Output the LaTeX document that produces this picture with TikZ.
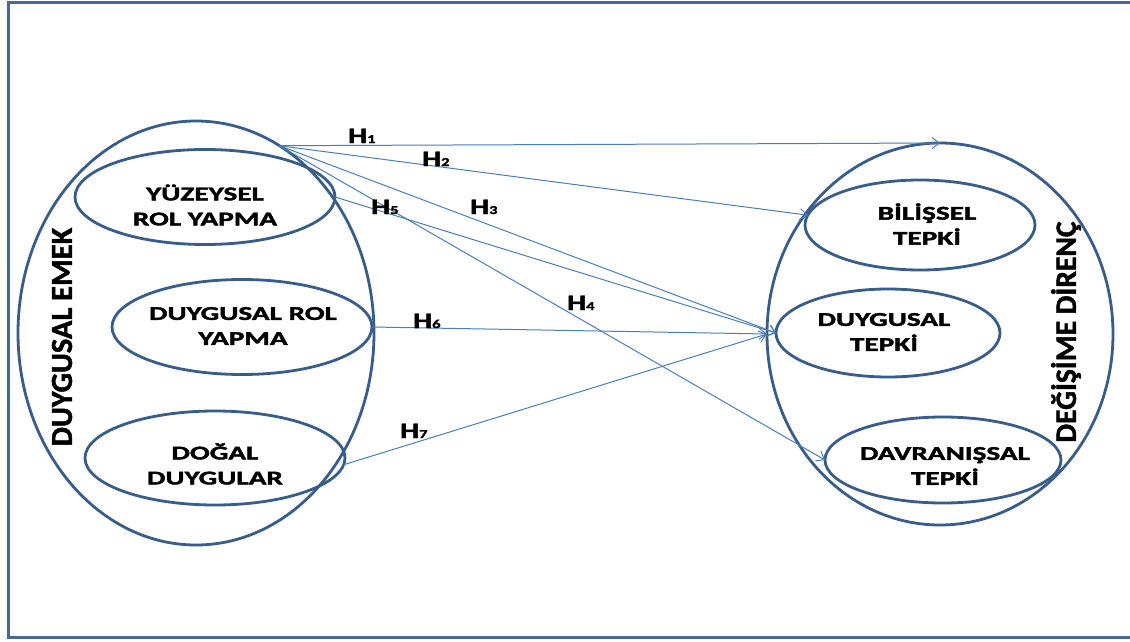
\documentclass[tikz,border=0pt]{standalone}
\usepackage{fontspec}
\setmainfont{Carlito}
\newfontfamily\wfont[FakeStretch=1.5,FakeBold=2]{Carlito}
\newfontfamily\hfont[FakeStretch=1.37,FakeBold=2]{Carlito}
\newfontfamily\vfont[FakeBold=1.5]{Carlito}
\usetikzlibrary{shapes.geometric,arrows.meta}
\definecolor{ellc}{HTML}{385D8A}
\definecolor{arrc}{HTML}{4A7EBB}
\definecolor{framec}{HTML}{46689A}
\tikzset{
  ell/.style={draw=ellc, line width=2.8pt, ellipse, inner sep=0pt, outer sep=0pt},
  lbl/.style={font=\wfont\bfseries\fontsize{19.5}{25}\selectfont, align=center, inner sep=0pt, text=black},
  vlbl/.style={inner sep=0pt, rotate=90, text=black},
  hl/.style={font=\hfont\bfseries\fontsize{22}{22}\selectfont, inner sep=0pt, anchor=base west, text=black},
  conn/.style={draw=arrc, line width=1pt, -{Straight Barb[length=7pt,width=11pt,line width=1pt]}},
}
\newcommand{\hsub}[1]{{\fontsize{12}{12}\selectfont #1}}
\begin{document}
\begin{tikzpicture}[x=1pt,y=-1pt]
\useasboundingbox (0,0) rectangle (1130,642);
\clip (0,0) rectangle (1130,642);
\fill[white] (0,0) rectangle (1130,642);
% frame
\draw[framec, line width=3pt] (1150,3) -- (8,3) -- (8,637.5) -- (1150,637.5);
% left side
\node[ell, minimum width=356pt, minimum height=424pt] (LB) at (196,333) {};
\node[ell, minimum width=260pt, minimum height=95pt] (L1) at (205,197) {};
\node[ell, minimum width=260pt, minimum height=95pt] (L2) at (242,327) {};
\node[ell, minimum width=260pt, minimum height=94pt] (L3) at (215,458) {};
\node[lbl] (T1) at (205,205) {YÜZEYSEL\\ROL YAPMA};
\node[lbl] (T2) at (243,326) {DUYGUSAL ROL\\YAPMA};
\node[lbl] (T3) at (215,464) {DOĞAL\\DUYGULAR};
\node[vlbl, font=\vfont\bfseries\fontsize{30.5}{30.5}\selectfont] (VL) at (62,337) {DUYGUSAL EMEK};
% right side
\node[ell, minimum width=346pt, minimum height=382pt] (RB) at (940,334) {};
\node[ell, minimum width=230pt, minimum height=90pt] (R1) at (920,225) {};
\node[ell, minimum width=224pt, minimum height=88pt] (R2) at (888,333) {};
\node[ell, minimum width=236pt, minimum height=86pt] (R3) at (943,460) {};
\node[lbl] (U1) at (927,224) {BİLİŞSEL\\TEPKİ};
\node[lbl] (U2) at (884,332) {DUYGUSAL\\TEPKİ};
\node[lbl] (U3) at (945,466) {DAVRANIŞSAL\\TEPKİ};
\node[vlbl, font=\vfont\bfseries\fontsize{29.6}{29.6}\selectfont] (VR) at (1066,332) {DEĞİŞİME DİRENÇ};
% connectors
\coordinate (src) at (LB.66);
\draw[conn] (src) -- (RB.north);
\draw[conn] (src) -- (R1.175);
\draw[conn] (src) -- (R2.west);
\draw[conn] (src) -- (R3.west);
\draw[conn] (L1.east) -- (R2.west);
\draw[conn] (L2.east) -- (RB.west);
\draw[conn] (L3.-3) -- (RB.west);
% labels
\node[hl] (H1) at (348,143) {H\hsub{1}};
\node[hl] (H2) at (422,166) {H\hsub{2}};
\node[hl] (H3) at (470,214) {H\hsub{3}};
\node[hl] (H4) at (567,310) {H\hsub{4}};
\node[hl] (H5) at (371,214) {H\hsub{5}};
\node[hl] (H6) at (413,328) {H\hsub{6}};
\node[hl] (H7) at (400,438) {H\hsub{7}};
\end{tikzpicture}
\end{document}
